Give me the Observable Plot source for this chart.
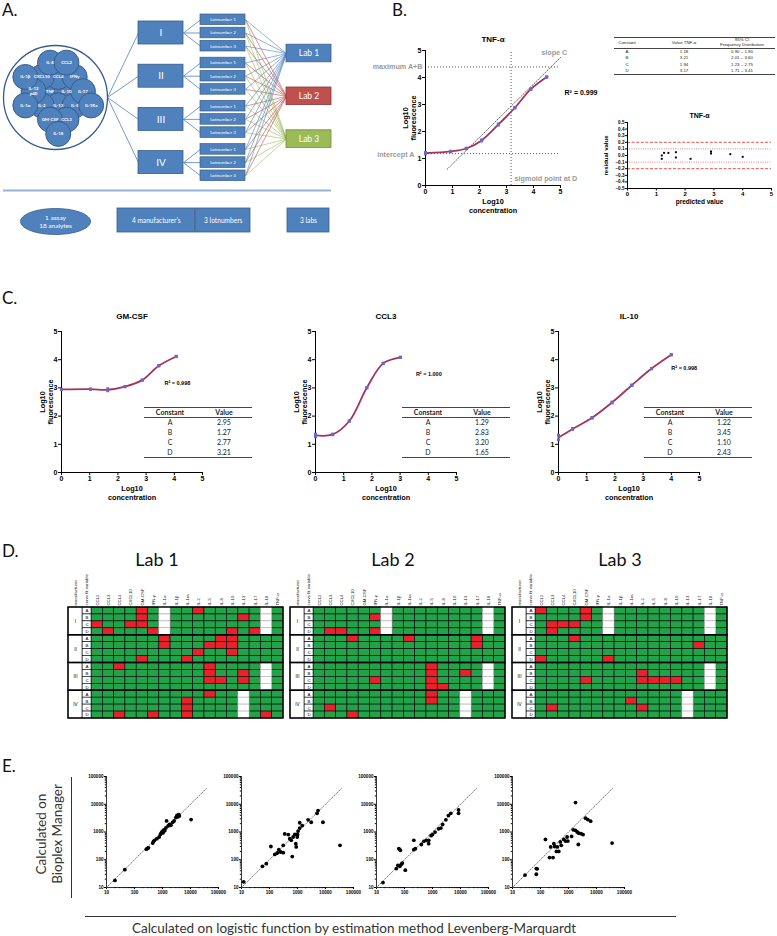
<!DOCTYPE html>
<html>
<head>
<meta charset="utf-8">
<script src="https://cdn.jsdelivr.net/npm/d3@7"></script>
<script src="https://cdn.jsdelivr.net/npm/@observablehq/plot@0.6"></script>
<style>
html,body{margin:0;padding:0;background:#fff;}
#fig{position:relative;width:777px;height:936px;overflow:hidden;background:#fff;}
.lbl{position:absolute;font-family:Lato,'Open Sans',sans-serif;color:#111;line-height:1;white-space:nowrap;}
.cell{position:absolute;white-space:pre;text-align:center;line-height:1.1;transform:translate(-50%,-50%);}
.hline{position:absolute;height:0;border-top:1px solid #444;}
</style>
</head>
<body>
<div id="fig"></div>
<script>
// ================= DATA =================
// Panel A
const diagramAnalytes = ["TNF","IL-10","IL-13","CCL4","CXCL10","IFNγ","IL-5","IL-2","IL-12\np40","IL-17","IL-1Ra","IL-1α","IL-8","CCL2","CCL3","GM-CSF","IL-18","IL-1β"];
const manufacturers = ["I","II","III","IV"];
const lotNumbers = ["Lotnumber 1","Lotnumber 2","Lotnumber 3"];
const labs = ["Lab 1","Lab 2","Lab 3"];
const assayLabel = "1 assay\n18 analytes";
const summaryLabels = ["4 manufacturer's","3 lotnumbers","3 labs"];

// Panel B – TNF-α standard curve
const tnfConc = [0, 0.93, 1.51, 2.08, 2.70, 3.31, 3.90, 4.49];
const tnfRep1 = [1.22, 1.25, 1.38, 1.65, 2.24, 2.87, 3.56, 4.03];
const tnfRep2 = [1.17, 1.27, 1.36, 1.69, 2.28, 2.89, 3.58, 4.01];
const tnfConstants = ["A","B","C","D"];
const tnfValues = ["1.18","3.21","1.94","3.17"];
const tnfCI = ["0.90 – 1.90","2.01 – 3.60","1.23 – 2.75","1.71 – 3.41"];
const tnfIntercept = 1.18, tnfMaximum = 4.39, tnfSigmoid = 3.17;
const tnfSlopeX = [0.8, 5.0];
const tnfSlopeY = [0.6, 4.74];
const tnfR2 = "0.999";
// residuals
const residPred = [1.19, 1.19, 1.27, 1.42, 1.68, 1.68, 2.19, 2.90, 2.90, 3.57, 4.00];
const residVal  = [0.00, -0.05, 0.04, 0.04, 0.05, -0.03, -0.05, 0.06, 0.03, 0.02, -0.02];
const residOuter = [0.2, -0.2];
const residInner = [0.1, -0.1];

// Panel C
const gmConc = [0, 1.03, 1.64, 2.25, 2.86, 3.45, 4.07];
const gmRep1 = [2.95, 2.95, 2.97, 3.04, 3.27, 3.78, 4.11];
const gmRep2 = [2.94, 2.96, 2.90, 3.05, 3.28, 3.79, 4.12];
const gmValues = ["2.95","1.27","2.77","3.21"];
const gmR2 = "0.998";
const ccl3Conc = [0, 0.61, 1.20, 1.82, 2.40, 3.01];
const ccl3Rep1 = [1.36, 1.36, 1.83, 3.01, 3.88, 4.08];
const ccl3Rep2 = [1.27, 1.34, 1.82, 3.00, 3.86, 4.09];
const ccl3Values = ["1.29","2.83","3.20","1.65"];
const ccl3R2 = "1.000";
const il10Conc = [0, 0.50, 1.19, 1.90, 2.60, 3.30, 4.00];
const il10Rep1 = [1.32, 1.56, 1.95, 2.50, 3.10, 3.69, 4.17];
const il10Rep2 = [1.16, 1.53, 1.93, 2.47, 3.09, 3.68, 4.18];
const il10Values = ["1.22","3.45","1.10","2.43"];
const il10R2 = "0.998";

// Panel D
const analytes = ["CCL2","CCL3","CCL4","CXCL10","GM-CSF","IFN-γ","IL-1α","IL-1β","IL-1ra","IL-2","IL-5","IL-8","IL-10","IL-13","IL-17","IL-18","TNF-α"];
const curveVars = ["A","B","C","D"];
const lab1Fail = [
  ["I-A","GM-CSF","IL-2"],["I-B","GM-CSF","IL-13"],["I-C","CCL2","CXCL10","GM-CSF"],["I-D","CCL3","IFN-γ","IL-10","IL-17"],
  ["II-A","IL-1α","IL-8","IL-10"],["II-B","IL-1α","IL-5","IL-8","IL-10"],["II-C","IL-2","IL-10"],["II-D","GM-CSF","IL-1ra"],
  ["III-A","CCL4","IL-5"],["III-B","IL-5","IL-13"],["III-C","IL-5","IL-8","IL-13"],
  ["IV-A","IL-5"],["IV-B","IL-1ra"],["IV-C","IL-1ra"],["IV-D","CCL4","IFN-γ","IL-1ra","IL-18"]
];
const lab2Fail = [
  ["I-B","IFN-γ"],["I-D","CCL3","CCL4","IFN-γ"],
  ["II-A","CXCL10","IL-1ra","IL-17"],["II-B","IL-17"],
  ["III-A","IL-5"],["III-B","IL-5","IL-13"],["III-C","IFN-γ","IL-5"],["III-D","IL-5","IL-8"],
  ["IV-A","IL-5"],["IV-B","IL-5"],["IV-C","CCL3"],["IV-D","CXCL10"]
];
const lab3Fail = [
  ["I-A","CCL2","GM-CSF"],["I-B","GM-CSF"],["I-C","CCL3","CCL4","CXCL10"],["I-D","CCL3"],
  ["II-A","CXCL10"],["II-B","IL-17"],["II-D","CCL2","IL-1α"],
  ["III-B","IL-2"],["III-C","GM-CSF","IL-2","IL-5","IL-8","IL-10"],
  ["IV-B","IL-1ra"],["IV-C","CCL3","IL-2"]
];
const notMeasured = [["I","IL-1α","IL-18"],["III","IL-18"],["IV","IL-13"]];

// Panel E  [x: logistic LM, y: Bioplex Manager]
const e1 = [[20,18],[45,44],[265,240],[290,255],[315,270],[450,400],[480,460],[520,500],[630,575],[760,660],[850,830],[910,930],[980,1050],[1050,930],[1120,1200],[1200,1120],[1320,1400],[1400,2500],[1580,1650],[1780,1860],[2000,1740],[2300,2240],[2600,2500],[3000,3300],[3300,4000],[3550,3550],[3800,4250],[4000,3800],[10500,2800]];
const e2 = [[12,16],[56,58],[77,72],[112,300],[155,155],[190,175],[215,230],[250,190],[310,180],[310,330],[350,850],[470,810],[530,570],[600,500],[650,130],[700,660],[800,820],[870,380],[900,290],[980,660],[1000,820],[1050,1080],[1200,1380],[1200,2150],[1480,1700],[2400,2750],[3100,2250],[5000,4700],[5400,5900],[8100,2250],[33000,330]];
const e3 = [[17,15],[51,48],[58,63],[68,58],[77,69],[84,76],[63,250],[71,220],[107,42],[215,230],[245,250],[215,500],[400,355],[490,460],[600,500],[730,380],[730,500],[890,740],[1000,810],[1230,990],[1650,1300],[2000,1380],[2300,1860],[3000,2750],[3700,3900],[4500,4700],[8500,6200],[8500,4700]];
const e4 = [[28,28],[71,48],[71,30],[76,47],[150,540],[210,120],[280,120],[230,290],[300,380],[320,300],[400,290],[370,200],[450,200],[510,440],[550,330],[680,540],[780,470],[890,660],[950,470],[1290,690],[1480,1200],[1780,1150],[2040,1000],[2340,910],[2820,870],[3310,810],[2240,355],[1780,11500],[4070,3160],[4900,2800],[6170,2450],[36000,400]];
const eDiagonal = [10, 37000];
const eDecades = [10, 100, 1000, 10000, 100000];

// ================= HELPERS =================
const fig = document.getElementById("fig");
const gpFont = "'Liberation Sans', Arial, sans-serif";
const svgStyle = {background: "transparent", overflow: "visible", fontFamily: gpFont};
const intFmt = d3.format("d");
function put(node, left, top) {
  const d = document.createElement("div");
  d.style.position = "absolute"; d.style.left = left + "px"; d.style.top = top + "px";
  d.appendChild(node); fig.appendChild(d); return d;
}
function label(text, left, top, size, extra = {}) {
  const d = document.createElement("div");
  d.className = "lbl"; d.textContent = text;
  d.style.left = left + "px"; d.style.top = top + "px"; d.style.fontSize = size + "px";
  Object.assign(d.style, extra);
  fig.appendChild(d); return d;
}
function hline(left, top, width, color = "#444", w = 1) {
  const d = document.createElement("div"); d.className = "hline";
  d.style.left = left + "px"; d.style.top = top + "px"; d.style.width = width + "px";
  d.style.borderTop = `${w}px solid ${color}`; fig.appendChild(d);
}
function drawTable({left, top, width, centers, header, rows, fontSize, font, headH, rowH, headWeight, color}) {
  hline(left, top, width);
  hline(left, top + headH, width);
  hline(left, top + headH + rows.length * rowH, width);
  const cell = (txt, cx, cy, weight) => {
    const s = document.createElement("div"); s.className = "cell"; s.textContent = txt;
    s.style.left = (left + cx) + "px"; s.style.top = cy + "px";
    s.style.fontSize = fontSize + "px"; s.style.fontFamily = font; s.style.fontWeight = weight; s.style.color = color || "#222";
    fig.appendChild(s);
  };
  header.forEach((h, i) => cell(h, centers[i], top + headH / 2 + 0.5, headWeight));
  rows.forEach((r, ri) => r.forEach((v, i) => cell(v, centers[i], top + headH + (ri + 0.5) * rowH + 0.5, "normal")));
}

// ================= PANEL A (diagram) =================
const mY = i => 32.5 + i * 43.2;
const lotY = (i, j) => mY(i) + (j - 1) * 13.2;
const labY = k => 53 + k * 42.8;
const labFill = ["#4f81bd", "#c0504d", "#9bbb59"];
const labEdge = ["#385d8a", "#8c3836", "#71893f"];
const blue = "#4f81bd", blueEdge = "#385d8a";
const bigCircle = {x: 55, y: 97, r: 52};
const bubR = 12.5;
const bub = d3.packSiblings(diagramAnalytes.map(name => ({name, r: bubR})));
const enc = d3.packEnclose(bub);
const sc = (bigCircle.r - 3 - bubR) / (enc.r - bubR);
bub.forEach(b => { b.px = bigCircle.x + (b.x - enc.x) * sc; b.py = bigCircle.y + (b.y - enc.y) * sc; });
const ellipsePts = d3.range(0, 73).map(t => ({x: 55 + 35 * Math.cos(t / 72 * 2 * Math.PI), y: 221 + 13 * Math.sin(t / 72 * 2 * Math.PI)}));
const lots = manufacturers.flatMap((m, i) => lotNumbers.map((l, j) => ({i, j, l})));
const lotLabLinks = lots.flatMap(d => labs.map((lab, k) => ({...d, k})));
const summaryBoxes = summaryLabels.map((s, i) => ({s, x1: [117, 195.5, 287][i], x2: [194.5, 250, 329][i]}));

const panelA = Plot.plot({
  width: 340, height: 240, margin: 0,
  x: {domain: [0, 340], range: [0, 340], axis: null},
  y: {domain: [0, 240], range: [0, 240], axis: null},
  color: {type: "identity"},
  style: {...svgStyle, fontFamily: "Lato, sans-serif"},
  marks: [
    Plot.link(lotLabLinks, {x1: 245, y1: d => lotY(d.i, d.j), x2: 286, y2: d => labY(d.k), stroke: d => labFill[d.k], strokeWidth: 0.6}),
    Plot.link(manufacturers, {x1: 107, y1: 97, x2: 138, y2: (d, i) => mY(i), stroke: blue, strokeWidth: 0.8}),
    Plot.link(lots, {x1: 183, y1: d => mY(d.i), x2: 200, y2: d => lotY(d.i, d.j), stroke: blue, strokeWidth: 0.8}),
    Plot.dot([bigCircle], {x: "x", y: "y", r: bigCircle.r, fill: "#fff", stroke: blueEdge, strokeWidth: 1.3}),
    Plot.dot(bub, {x: "px", y: "py", r: bubR, fill: blue, stroke: blueEdge, strokeWidth: 1}),
    Plot.text(bub, {x: "px", y: "py", text: "name", fill: "#fff", fontSize: 4.4, fontWeight: "bold", lineHeight: 1.1}),
    Plot.rect(manufacturers, {x1: 138, x2: 183, y1: (d, i) => mY(i) - 11.5, y2: (d, i) => mY(i) + 11.5, fill: blue, stroke: blueEdge, strokeWidth: 0.8}),
    Plot.text(manufacturers, {x: 160.5, y: (d, i) => mY(i), text: d => d, fill: "#fff", fontSize: 10}),
    Plot.rect(lots, {x1: 200, x2: 245, y1: d => lotY(d.i, d.j) - 5.3, y2: d => lotY(d.i, d.j) + 5.3, fill: blue, stroke: blueEdge, strokeWidth: 0.7}),
    Plot.text(lots, {x: 222.5, y: d => lotY(d.i, d.j), text: "l", fill: "#fff", fontSize: 4.6}),
    Plot.rect(labs, {x1: 286, x2: 331, y1: (d, i) => labY(i) - 8.8, y2: (d, i) => labY(i) + 8.8, fill: (d, i) => labFill[i], stroke: (d, i) => labEdge[i], strokeWidth: 0.8}),
    Plot.text(labs, {x: 308.5, y: (d, i) => labY(i), text: d => d, fill: "#fff", fontSize: 8.5}),
    Plot.ruleY([190], {x1: 3, x2: 331, stroke: "#95b3d7", strokeWidth: 1.8}),
    Plot.line(ellipsePts, {x: "x", y: "y", fill: blue, stroke: blueEdge, strokeWidth: 0.8}),
    Plot.text([assayLabel], {x: 55, y: 221, text: d => d, fill: "#fff", fontSize: 6.5, lineHeight: 1.2}),
    Plot.rect(summaryBoxes, {x1: "x1", x2: "x2", y1: 208, y2: 232, fill: blue, stroke: blueEdge, strokeWidth: 0.8}),
    Plot.text(summaryBoxes, {x: d => (d.x1 + d.x2) / 2, y: 220, text: "s", fill: "#fff", fontSize: 6.6})
  ]
});
put(panelA, 0, 0);

// ================= CURVE PLOTS (B, C) =================
const curveLine = "#a3345f", curvePoint = "#6f66c4";
function curvePlot({conc, rep1, rep2, title, r2, r2x, r2y, r2size, extra = [], width, height, mL, mR, mT, mB, titleDy, ylDx}) {
  const pts = conc.flatMap((c, i) => [{x: c, y: rep1[i]}, {x: c, y: rep2[i]}]);
  const fit = conc.map((c, i) => ({x: c, y: (rep1[i] + rep2[i]) / 2}));
  return Plot.plot({
    width, height, marginLeft: mL, marginRight: mR, marginTop: mT, marginBottom: mB,
    style: svgStyle,
    x: {domain: [0, 5]}, y: {domain: [0, 5]},
    marks: [
      ...extra,
      Plot.ruleX([0], {y1: 0, y2: 5, stroke: "#000", strokeWidth: 1}),
      Plot.ruleY([0], {x1: 0, x2: 5, stroke: "#000", strokeWidth: 1}),
      Plot.axisX({ticks: [0,1,2,3,4,5], tickFormat: intFmt, tickSize: 3, tickPadding: 1, fontSize: 7, fontWeight: "bold", label: null, stroke: "#000"}),
      Plot.axisY({ticks: [0,1,2,3,4,5], tickFormat: intFmt, tickSize: 3, tickPadding: 1, fontSize: 7, fontWeight: "bold", label: null, stroke: "#000"}),
      Plot.line(fit, {x: "x", y: "y", stroke: curveLine, strokeWidth: 1.8, curve: "catmull-rom"}),
      Plot.dot(pts, {x: "x", y: "y", r: 1.7, fill: curvePoint, symbol: "square"}),
      Plot.text([title], {text: d => d, frameAnchor: "top", dy: titleDy, fontSize: 8, fontWeight: "bold"}),
      Plot.text(["Log10\nconcentration"], {text: d => d, frameAnchor: "bottom", textAnchor: "middle", lineAnchor: "top", dy: 13, fontSize: 7.3, fontWeight: "bold", lineHeight: 1.15}),
      Plot.text(["Log10\nfluorescence"], {text: d => d, frameAnchor: "left", textAnchor: "middle", lineAnchor: "middle", rotate: -90, dx: ylDx, fontSize: 7.3, fontWeight: "bold", lineHeight: 1.15}),
      Plot.text([`R² = ${r2}`], {text: d => d, x: r2x, y: r2y, textAnchor: "start", fontSize: r2size, fontWeight: "bold"})
    ]
  });
}
const gray = "#9a9a9a";
const tnfExtra = [
  Plot.ruleY([tnfMaximum, tnfIntercept], {x1: 0, x2: 5, stroke: "#444", strokeWidth: 0.9, strokeDasharray: "1,2"}),
  Plot.ruleX([tnfSigmoid], {y1: 0, y2: 5, stroke: "#444", strokeWidth: 0.9, strokeDasharray: "1,2"}),
  Plot.line(tnfSlopeX.map((x, i) => ({x, y: tnfSlopeY[i]})), {x: "x", y: "y", stroke: "#333", strokeWidth: 0.8, strokeDasharray: "1,1.6"}),
  Plot.text(["maximum A+B"], {text: d => d, x: 0, y: tnfMaximum, dx: -3, textAnchor: "end", fill: gray, fontSize: 7.2, fontWeight: "bold"}),
  Plot.text(["intercept A"], {text: d => d, x: 0, y: tnfIntercept, dx: -11, dy: 1, textAnchor: "end", fill: gray, fontSize: 7.2, fontWeight: "bold"}),
  Plot.text(["slope C"], {text: d => d, x: 4.77, y: 4.93, fill: gray, fontSize: 7.2, fontWeight: "bold"}),
  Plot.text(["sigmoid point at D"], {text: d => d, x: 3.3, y: 0.25, textAnchor: "start", fill: gray, fontSize: 7.2, fontWeight: "bold"})
];
put(curvePlot({conc: tnfConc, rep1: tnfRep1, rep2: tnfRep2, title: "TNF-α", r2: tnfR2, r2x: 5.15, r2y: 3.44, r2size: 7,
  extra: tnfExtra, width: 250, height: 195, mL: 55, mR: 60, mT: 24, mB: 36, titleDy: -14, ylDx: -16}), 370, 26);

const cSpec = {width: 260, height: 205, mL: 61, mR: 58, mT: 31, mB: 33, titleDy: -18, r2size: 5.5, ylDx: -15};
put(curvePlot({...cSpec, conc: gmConc, rep1: gmRep1, rep2: gmRep2, title: "GM-CSF", r2: gmR2, r2x: 3.65, r2y: 3.16}), 0, 300);
put(curvePlot({...cSpec, conc: ccl3Conc, rep1: ccl3Rep1, rep2: ccl3Rep2, title: "CCL3", r2: ccl3R2, r2x: 3.56, r2y: 3.48}), 254, 300);
put(curvePlot({...cSpec, conc: il10Conc, rep1: il10Rep1, rep2: il10Rep2, title: "IL-10", r2: il10R2, r2x: 4.0, r2y: 3.69}), 497, 300);

// Panel C tables
const cTable = (left, vals) => drawTable({left, top: 407, width: 108, centers: [26, 80], header: ["Constant", "Value"],
  rows: tnfConstants.map((c, i) => [c, vals[i]]), fontSize: 7, font: "Lato, sans-serif", headH: 10, rowH: 10, headWeight: "bold"});
cTable(144, gmValues); cTable(402, ccl3Values); cTable(644, il10Values);

// Panel B table
drawTable({left: 614, top: 37, width: 161, centers: [13, 70, 128], header: ["Constant", "Value TNF-α", "95% CI\nFrequency Distribution"],
  rows: tnfConstants.map((c, i) => [c, tnfValues[i], tnfCI[i]]), fontSize: 4.4, font: gpFont, headH: 11, rowH: 6.4, headWeight: "normal"});

// Residual plot
const resid = residPred.map((p, i) => ({p, v: residVal[i]}));
const residPlot = Plot.plot({
  width: 177, height: 110, marginLeft: 27, marginRight: 6, marginTop: 22, marginBottom: 22,
  style: svgStyle,
  x: {domain: [0, 5]}, y: {domain: [-0.5, 0.5]},
  marks: [
    Plot.ruleY(residOuter, {x1: 0, x2: 5, stroke: "#d9403a", strokeWidth: 0.9, strokeDasharray: "3,1.6"}),
    Plot.ruleY(residInner, {x1: 0, x2: 5, stroke: "#d9403a", strokeWidth: 0.8, strokeDasharray: "0.8,1.5"}),
    Plot.ruleX([0], {y1: -0.5, y2: 0.5, stroke: "#000"}),
    Plot.ruleY([-0.5], {x1: 0, x2: 5, stroke: "#000"}),
    Plot.axisX({ticks: [0,1,2,3,4,5], tickFormat: intFmt, tickSize: 2.5, tickPadding: 1, fontSize: 6, fontWeight: "bold", label: null}),
    Plot.axisY({ticks: d3.range(-5, 6).map(k => k / 10), tickFormat: d3.format(".1f"), tickSize: 2, tickPadding: 1, fontSize: 4.6, fontWeight: "bold", label: null}),
    Plot.dot(resid, {x: "p", y: "v", r: 1.1, fill: "#000", symbol: "square"}),
    Plot.text(["TNF-α"], {text: d => d, frameAnchor: "top", dy: -9, fontSize: 7, fontWeight: "bold"}),
    Plot.text(["predicted value"], {text: d => d, frameAnchor: "bottom", textAnchor: "middle", dy: 15, fontSize: 6.5, fontWeight: "bold"}),
    Plot.text(["residual value"], {text: d => d, frameAnchor: "left", textAnchor: "middle", rotate: -90, dx: -21, fontSize: 6, fontWeight: "bold"})
  ]
});
put(residPlot, 600, 100);

// ================= PANEL D (heatmaps) =================
const statusFill = {pass: "#22a34a", fail: "#e8222b", na: "#ffffff"};
function heatmap(failList) {
  const fail = new Set(failList.flatMap(([row, ...as]) => as.map(a => row + "|" + a)));
  const na = new Set(notMeasured.flatMap(([m, ...as]) => curveVars.flatMap(v => as.map(a => m + "-" + v + "|" + a))));
  const cells = [];
  manufacturers.forEach((m, mi) => curveVars.forEach((v, vi) => analytes.forEach((a, ai) => {
    const key = m + "-" + v + "|" + a;
    cells.push({col: ai, row: mi * 4 + vi, status: fail.has(key) ? "fail" : na.has(key) ? "na" : "pass"});
  })));
  const rows = manufacturers.flatMap((m, mi) => curveVars.map((v, vi) => ({v, row: mi * 4 + vi})));
  const headers = [{t: "manufacturer", x: -1.42}, {t: "curve fit variable", x: -0.4}, ...analytes.map((a, i) => ({t: a, x: i + 0.5}))];
  return Plot.plot({
    width: 222, height: 162, marginLeft: 2, marginRight: 5, marginTop: 47, marginBottom: 4,
    style: svgStyle,
    x: {domain: [-2.04, 17], axis: null}, y: {domain: [0, 16], reverse: true, axis: null},
    color: {type: "identity"},
    marks: [
      Plot.rect(cells.filter(d => d.status !== "na"), {x1: "col", x2: d => d.col + 1, y1: "row", y2: d => d.row + 1, fill: d => statusFill[d.status], stroke: "#000", strokeWidth: 0.6}),
      Plot.rect(cells.filter(d => d.status === "na"), {x1: "col", x2: d => d.col + 1, y1: "row", y2: d => d.row + 1, fill: "#fff", stroke: "#aaa", strokeWidth: 0.6}),
      Plot.rect(rows, {x1: -0.8, x2: 0, y1: "row", y2: d => d.row + 1, fill: "#fff", stroke: "#000", strokeWidth: 0.6}),
      Plot.rect(manufacturers, {x1: -2.04, x2: -0.8, y1: (d, i) => i * 4, y2: (d, i) => i * 4 + 4, fill: "#fff", stroke: "#000", strokeWidth: 0.6}),
      Plot.rect(manufacturers, {x1: -2.04, x2: 17, y1: (d, i) => i * 4, y2: (d, i) => i * 4 + 4, fill: "none", stroke: "#000", strokeWidth: 1.4}),
      Plot.text(manufacturers, {x: -1.42, y: (d, i) => i * 4 + 2, text: d => d, fontSize: 4.6}),
      Plot.text(rows, {x: -0.4, y: d => d.row + 0.5, text: "v", fontSize: 4.4}),
      Plot.text(headers, {x: "x", y: 0, text: "t", rotate: -90, textAnchor: "start", dy: -2, fontSize: 4.3, fill: "#222"})
    ]
  });
}
put(heatmap(lab1Fail), 66, 560);
put(heatmap(lab2Fail), 288, 560);
put(heatmap(lab3Fail), 510, 560);

// ================= PANEL E =================
const eMinor = eDecades.slice(0, -1).flatMap(d => d3.range(2, 10).map(k => d * k));
function ePlot(data) {
  const pts = data.map(([x, y]) => ({x, y}));
  return Plot.plot({
    width: 156, height: 133, marginLeft: 36, marginRight: 8, marginTop: 6, marginBottom: 16,
    style: svgStyle,
    x: {type: "log", domain: [10, 100000]}, y: {type: "log", domain: [10, 100000]},
    marks: [
      Plot.ruleX([10], {stroke: "#000", strokeWidth: 0.8}),
      Plot.ruleY([10], {stroke: "#000", strokeWidth: 0.8}),
      Plot.axisX({ticks: eDecades, tickFormat: d => String(d), tickSize: 2, tickPadding: 1, fontSize: 4.6, fontWeight: "bold", label: null}),
      Plot.axisX({ticks: eMinor, tickFormat: () => "", tickSize: 1.2, label: null}),
      Plot.axisY({ticks: eDecades, tickFormat: d => String(d), tickSize: 2, tickPadding: 1, fontSize: 4.6, fontWeight: "bold", label: null}),
      Plot.axisY({ticks: eMinor, tickFormat: () => "", tickSize: 1.2, label: null}),
      Plot.line(eDiagonal.map(v => ({x: v, y: v})), {x: "x", y: "y", stroke: "#555", strokeWidth: 0.8, strokeDasharray: "1,1.5"}),
      Plot.dot(pts, {x: "x", y: "y", r: 1.9, fill: "#000"})
    ]
  });
}
put(ePlot(e1), 70, 770);
put(ePlot(e2), 205, 770);
put(ePlot(e3), 340, 770);
put(ePlot(e4), 476, 770);

// ================= TEXT LABELS =================
label("A.", 2, 1, 17); label("B.", 392, 1, 17); label("C.", 2, 289, 17); label("D.", 2, 542, 17); label("E.", 2, 757, 17);
label("Lab 1", 157, 550, 18, {transform: "translateX(-50%)"});
label("Lab 2", 393, 550, 18, {transform: "translateX(-50%)"});
label("Lab 3", 620, 550, 18, {transform: "translateX(-50%)"});
label("Calculated on\nBioplex Manager", 49, 834, 13.5, {whiteSpace: "pre", textAlign: "center", lineHeight: "1.2", color: "#333", transform: "translate(-50%,-50%) rotate(-90deg)"});
const vline = document.createElement("div");
Object.assign(vline.style, {position: "absolute", left: "71px", top: "777px", width: "0", height: "121px", borderLeft: "1px solid #333"});
fig.appendChild(vline);
hline(85, 916, 591, "#333", 1);
label("Calculated on logistic function by estimation method Levenberg-Marquardt", 354, 922, 13.5, {transform: "translateX(-50%)", color: "#333"});
</script>
</body>
</html>
